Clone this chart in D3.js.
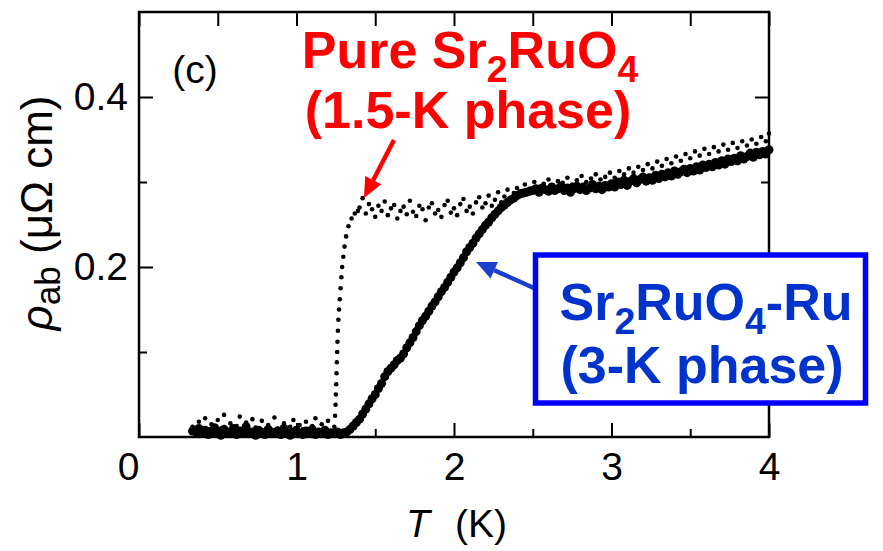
<!DOCTYPE html>
<html>
<head>
<meta charset="utf-8">
<script src="https://cdn.jsdelivr.net/npm/d3@7/dist/d3.min.js"></script>
<style>
  html, body { margin: 0; padding: 0; background: #fff; }
  svg { display: block; font-family: "Liberation Sans", Arial, Helvetica, sans-serif; }
</style>
</head>
<body>
<svg id="chart" width="883" height="551"></svg>
<script>
// In-plane resistivity of Sr2RuO4-Ru eutectic crystal (3-K phase) vs pure Sr2RuO4 (1.5-K phase)

const xTickValues = [0, 1, 2, 3, 4];
const xMinorTicks = [0.5, 1.5, 2.5, 3.5];
const yTickValues = [0.2, 0.4];
const yMinorTicks = [0.1, 0.3];

// Sr2RuO4-Ru (3-K phase): temperature (K) and rho_ab (µΩ cm)
const ruTemp = [
  0.34,0.36,0.38,0.40,0.42,0.44,0.46,0.48,0.50,0.52,0.54,0.56,0.58,0.60,0.62,0.64,0.66,0.68,0.70,0.72,
  0.74,0.76,0.78,0.80,0.82,0.84,0.86,0.88,0.90,0.92,0.94,0.96,0.98,1.00,1.02,1.04,1.06,1.08,1.10,1.12,
  1.14,1.16,1.18,1.20,1.22,1.24,1.26,1.28,1.30,1.32,1.34,1.36,1.38,1.40,1.42,1.44,1.46,1.48,1.50,1.52,
  1.54,1.56,1.58,1.60,1.62,1.64,1.66,1.68,1.70,1.72,1.74,1.76,1.78,1.80,1.82,1.84,1.86,1.88,1.90,1.92,
  1.94,1.96,1.98,2.00,2.02,2.04,2.06,2.08,2.10,2.12,2.14,2.16,2.18,2.20,2.22,2.24,2.26,2.28,2.30,2.32,
  2.34,2.36,2.38,2.40,2.42,2.44,2.46,2.48,2.50,2.52,2.54,2.56,2.58,2.60,2.62,2.64,2.66,2.68,2.70,2.72,
  2.74,2.76,2.78,2.80,2.82,2.84,2.86,2.88,2.90,2.92,2.94,2.96,2.98,3.00,3.02,3.04,3.06,3.08,3.10,3.12,
  3.14,3.16,3.18,3.20,3.22,3.24,3.26,3.28,3.30,3.32,3.34,3.36,3.38,3.40,3.42,3.44,3.46,3.48,3.50,3.52,
  3.54,3.56,3.58,3.60,3.62,3.64,3.66,3.68,3.70,3.72,3.74,3.76,3.78,3.80,3.82,3.84,3.86,3.88,3.90,3.92,
  3.94,3.96,3.98,4.00
];
const ruRho = [
  0.007,0.006,0.010,0.004,0.008,0.003,0.007,0.011,0.005,0.002,0.009,0.006,0.004,0.010,0.003,0.007,0.005,0.012,0.004,0.006,
  0.002,0.008,0.005,0.003,0.009,0.006,0.004,0.007,0.003,0.010,0.005,0.002,0.006,0.008,0.004,0.003,0.007,0.005,0.009,0.003,
  0.006,0.004,0.008,0.003,0.005,0.004,0.006,0.003,0.005,0.006,0.009,0.013,0.017,0.021,0.027,0.033,0.039,0.045,0.050,0.057,
  0.063,0.071,0.077,0.081,0.085,0.090,0.093,0.098,0.105,0.111,0.117,0.124,0.131,0.137,0.142,0.148,0.154,0.159,0.165,0.171,
  0.176,0.182,0.188,0.194,0.199,0.205,0.211,0.218,0.223,0.228,0.234,0.239,0.244,0.249,0.253,0.258,0.262,0.266,0.270,0.273,
  0.276,0.279,0.281,0.284,0.286,0.287,0.288,0.289,
  0.290,0.292,0.288,0.293,0.291,0.289,0.294,0.290,0.292,0.295,0.290,0.293,0.288,0.292,0.295,0.291,0.294,0.290,0.293,0.297,
  0.292,0.295,0.291,0.296,0.294,
  0.298,0.294,0.300,0.297,0.302,0.296,0.301,0.304,0.299,0.303,0.306,0.301,0.305,0.302,0.308,0.304,0.309,0.306,0.311,0.307,
  0.313,0.309,0.312,0.315,0.311,0.316,0.313,0.318,0.314,0.320,0.317,0.321,0.318,0.323,0.320,0.325,0.321,0.327,0.324,0.328,
  0.325,0.331,0.327,0.330,0.334,0.329,0.335,0.332,0.336,0.333,0.338
];

// Pure Sr2RuO4 (1.5-K phase): temperature (K) and rho_ab (µΩ cm)
const pureTemp = [
  0.34,0.36,0.38,0.40,0.42,0.44,0.46,0.48,0.50,0.52,0.54,0.56,0.58,0.60,0.62,0.64,0.66,0.68,0.70,0.72,
  0.74,0.76,0.78,0.80,0.82,0.84,0.86,0.88,0.90,0.92,0.94,0.96,0.98,1.00,1.02,1.04,1.06,1.08,1.10,1.12,
  1.14,1.16,1.18,1.20,1.22,1.24,
  1.245,1.248,1.250,1.252,1.254,1.256,1.258,1.260,1.263,1.266,1.270,1.275,1.280,1.285,1.290,1.297,1.305,1.315,1.330,1.350,
  1.370,1.390,
  1.40,1.42,1.44,1.46,1.48,1.50,1.52,1.54,1.56,1.58,1.60,1.62,1.64,1.66,1.68,1.70,1.72,1.74,1.76,1.78,
  1.80,1.82,1.84,1.86,1.88,1.90,1.92,1.94,1.96,1.98,2.00,2.02,2.04,2.06,2.08,2.10,2.12,2.14,2.16,2.18,
  2.20,2.22,2.24,2.26,2.28,2.30,2.32,2.34,2.36,2.38,2.40,
  2.42,2.45,2.48,2.51,2.54,2.57,2.60,2.63,2.66,2.69,2.72,2.75,2.78,2.81,2.84,2.87,2.90,2.93,2.96,2.99,
  3.02,3.05,3.08,3.11,3.14,3.17,3.20,3.23,3.26,3.29,3.32,3.35,3.38,3.41,3.44,3.47,3.50,3.53,3.56,3.59,
  3.62,3.65,3.68,3.71,3.74,3.77,3.80,3.83,3.86,3.89,3.92,3.95,3.98,4.00
];
const pureRho = [
  0.012,0.004,0.018,0.008,0.022,0.006,0.015,0.003,0.020,0.010,0.026,0.007,0.016,0.004,0.013,0.024,0.009,0.017,0.005,0.021,
  0.011,0.003,0.019,0.008,0.014,0.006,0.023,0.010,0.004,0.016,0.008,0.012,0.020,0.005,0.014,0.009,0.018,0.004,0.013,0.022,
  0.007,0.015,0.010,0.019,0.006,0.012,
  0.025,0.038,0.050,0.062,0.075,0.088,0.100,0.112,0.125,0.138,0.150,0.162,0.175,0.188,0.200,0.212,0.224,0.236,0.248,0.257,
  0.263,0.266,
  0.270,0.281,0.263,0.274,0.268,0.259,0.272,0.266,0.277,0.261,0.269,0.273,0.257,0.266,0.271,0.262,0.278,0.265,0.260,0.272,
  0.268,0.255,0.270,0.275,0.263,0.267,0.259,0.273,0.278,0.264,0.269,0.261,0.274,0.280,0.266,0.271,0.263,0.276,0.282,0.270,
  0.275,0.284,0.272,0.279,0.288,0.276,0.283,0.291,0.280,0.287,0.293,
  0.289,0.297,0.292,0.300,0.294,0.298,0.303,0.296,0.301,0.299,0.305,0.297,0.302,0.307,0.300,0.304,0.309,0.303,0.306,0.311,
  0.305,0.313,0.309,0.316,0.311,0.318,0.314,0.321,0.316,0.324,0.319,0.327,0.322,0.330,0.325,0.333,0.328,0.336,0.331,0.339,
  0.333,0.341,0.336,0.344,0.338,0.346,0.340,0.348,0.343,0.350,0.345,0.353,0.348,0.357
];

const ruPoints = ruTemp.map((t, i) => ({ t, r: ruRho[i] }));
const purePoints = pureTemp.map((t, i) => ({ t, r: pureRho[i] }));

const svg = d3.select("#chart");
const plot = { left: 139, right: 769, top: 12, bottom: 437 };

const x = d3.scaleLinear().domain([0, 4]).range([plot.left, plot.right]);
const y = d3.scaleLinear().domain([0, 0.5]).range([plot.bottom, plot.top]);

const FONT = '"Liberation Sans", Arial, Helvetica, sans-serif';

// ---- data ----
svg.append("g").selectAll("circle").data(ruPoints).join("circle")
  .attr("cx", d => x(d.t)).attr("cy", d => y(d.r)).attr("r", 4.5).attr("fill", "#000");

svg.append("g").selectAll("circle").data(purePoints).join("circle")
  .attr("cx", d => x(d.t)).attr("cy", d => y(d.r)).attr("r", 2.3).attr("fill", "#000");

// ---- frame and inward ticks ----
function styleAxis(g) {
  g.select(".domain").remove();
  g.selectAll(".tick line").attr("stroke", "#000").attr("stroke-width", 2);
}
const major = 14, minor = 8;

svg.append("g").attr("transform", `translate(0,${plot.bottom})`)
  .call(d3.axisBottom(x).tickValues(xTickValues).tickSize(-major).tickPadding(15).tickFormat(d3.format("d")))
  .call(styleAxis)
  .call(g => g.selectAll(".tick text").attr("font-size", 39).attr("font-family", FONT).attr("fill", "#000"))
  .call(g => g.selectAll(".tick").filter(d => d === 0).select("text").attr("x", -11));
svg.append("g").attr("transform", `translate(0,${plot.bottom})`)
  .call(d3.axisBottom(x).tickValues(xMinorTicks).tickSize(-minor).tickFormat(""))
  .call(styleAxis);
svg.append("g").attr("transform", `translate(0,${plot.top})`)
  .call(d3.axisTop(x).tickValues(xTickValues.concat(xMinorTicks)).tickSize(-major).tickFormat(""))
  .call(styleAxis);

svg.append("g").attr("transform", `translate(${plot.left},0)`)
  .call(d3.axisLeft(y).tickValues(yTickValues).tickSize(-major).tickPadding(11).tickFormat(d3.format(".1f")))
  .call(styleAxis)
  .call(g => g.selectAll(".tick text").attr("font-size", 39).attr("font-family", FONT).attr("fill", "#000"));
svg.append("g").attr("transform", `translate(${plot.left},0)`)
  .call(d3.axisLeft(y).tickValues(yMinorTicks).tickSize(-minor).tickFormat(""))
  .call(styleAxis);
svg.append("g").attr("transform", `translate(${plot.right},0)`)
  .call(d3.axisRight(y).tickValues(yTickValues).tickSize(-major).tickFormat(""))
  .call(styleAxis);
svg.append("g").attr("transform", `translate(${plot.right},0)`)
  .call(d3.axisRight(y).tickValues(yMinorTicks).tickSize(-minor).tickFormat(""))
  .call(styleAxis);

svg.append("rect")
  .attr("x", plot.left).attr("y", plot.top)
  .attr("width", plot.right - plot.left).attr("height", plot.bottom - plot.top)
  .attr("fill", "none").attr("stroke", "#000").attr("stroke-width", 2.5);

// ---- rich text helper (italic / subscript runs) ----
function richText(parent, parts, opts) {
  const t = parent.append("text")
    .attr("x", opts.x).attr("y", opts.y)
    .attr("text-anchor", opts.anchor || "middle")
    .attr("font-family", FONT)
    .attr("font-size", opts.size)
    .attr("font-weight", opts.weight || "normal")
    .attr("fill", opts.fill || "#000");
  if (opts.rotate) t.attr("transform", `rotate(${opts.rotate},${opts.x},${opts.y})`);
  let shift = 0;
  parts.forEach(p => {
    const target = p.sub ? opts.subShift : 0;
    const s = t.append("tspan").text(p.text).attr("dy", target - shift);
    shift = target;
    if (p.sub) s.attr("font-size", opts.size * (opts.subScale || 0.72));
    if (p.italic) s.attr("font-style", "italic");
  });
  return t;
}

// axis titles
richText(svg, [{ text: "T", italic: true }], { x: 406, y: 537, size: 39, anchor: "start" });
richText(svg, [{ text: "(K)" }], { x: 455, y: 537, size: 39, anchor: "start" });
richText(svg, [{ text: "\u03C1", italic: true }, { text: "ab", sub: true }, { text: " (\u03BC\u03A9 cm)" }],
  { x: 52, y: 213, size: 44, rotate: -90, subShift: 8, subScale: 0.8 });

// panel tag
richText(svg, [{ text: "(c)" }], { x: 195, y: 83, size: 39 });

// ---- pure Sr2RuO4 annotation ----
const red = "#ff0000";
richText(svg, [{ text: "Pure Sr" }, { text: "2", sub: true }, { text: "RuO" }, { text: "4", sub: true }],
  { x: 470, y: 68, size: 52, weight: "bold", fill: red, subShift: 14 });
richText(svg, [{ text: "(1.5-K phase)" }],
  { x: 468, y: 128, size: 52, weight: "bold", fill: red });

function arrow(x1, y1, x2, y2, color, width, headLen, headHalf) {
  const ang = Math.atan2(y2 - y1, x2 - x1);
  const bx = x2 - headLen * Math.cos(ang), by = y2 - headLen * Math.sin(ang);
  svg.append("line").attr("x1", x1).attr("y1", y1).attr("x2", bx).attr("y2", by)
    .attr("stroke", color).attr("stroke-width", width);
  const px = -Math.sin(ang) * headHalf, py = Math.cos(ang) * headHalf;
  svg.append("polygon")
    .attr("points", [[x2, y2], [bx + px, by + py], [bx - px, by - py]].map(p => p.join(",")).join(" "))
    .attr("fill", color);
}
arrow(394, 140, 364, 198, red, 4.5, 20, 9);

// ---- Sr2RuO4-Ru annotation ----
const blue = "#0033cc";
arrow(536, 289, 476, 262, "#1a3fcc", 4.5, 20, 9);
svg.append("rect").attr("x", 535.5).attr("y", 255).attr("width", 330).attr("height", 148)
  .attr("fill", "#fff").attr("stroke", "#0000ff").attr("stroke-width", 5.5);
richText(svg, [{ text: "Sr" }, { text: "2", sub: true }, { text: "RuO" }, { text: "4", sub: true }, { text: "-Ru" }],
  { x: 706, y: 320, size: 52, weight: "bold", fill: blue, subShift: 14 });
richText(svg, [{ text: "(3-K phase)" }],
  { x: 702, y: 383, size: 52, weight: "bold", fill: blue });
</script>
</body>
</html>
